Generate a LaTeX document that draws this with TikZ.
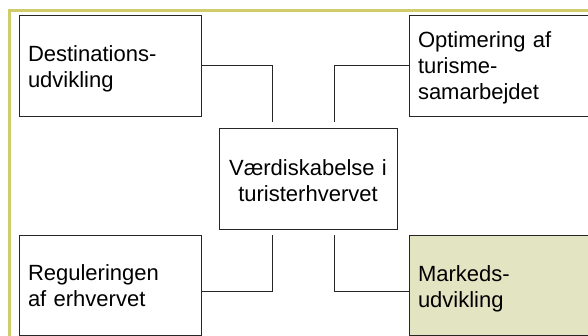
\documentclass[tikz,border=0pt]{standalone}
\usepackage{fontspec}
\setmainfont{Liberation Sans}
\usepackage{xcolor}
\definecolor{frameolive}{RGB}{209,204,107}
\definecolor{boxolive}{RGB}{227,228,194}

\tikzset{
  area/.style={draw=black!85, line width=0.9pt, minimum width=182pt, minimum height=101pt,
    text width=164pt, inner xsep=9pt, align=left, font=\fontsize{22}{26}\selectfont,
    execute at begin node={\rule{0pt}{#1}},
    execute at end node={\rule[-5pt]{0pt}{5pt}}},
  area/.default=24pt,
  link/.style={draw=black!85, line width=0.9pt}
}

\begin{document}
\begin{tikzpicture}[x=1pt, y=-1pt]
                \clip (0,0) rectangle (588,336);
                \fill[white] (0,0) rectangle (588,336);

                % Outer frame
                \draw[frameolive, line width=2.7pt] (9.5,10.7) rectangle (620,360);

                % Center box
                \node[area=26pt, minimum width=178pt, text width=160pt, align=center] (ctr) at (308,178.5)
                  {V\ae rdiskabelse i\\ turisterhvervet};

                % Corner boxes
                \node[area] (dest) at (110,65.5) {Destinations-\\udvikling};
                \node[area=22pt] (optim) at (500,65.5) {Optimering af\\turisme-\\samarbejdet};
                \node[area=21pt, minimum height=100pt] (regul) at (110,285) {Reguleringen\\af erhvervet};
                \node[area, fill=boxolive, minimum height=100pt] (marked) at (500,285) {Markeds-\\udvikling};

                % Line ends near center box
                \coordinate (tl) at ([xshift=-36pt, yshift=6pt]ctr.north);
                \coordinate (tr) at ([xshift=26pt, yshift=6pt]ctr.north);
                \coordinate (bl) at ([xshift=-36pt, yshift=-6pt]ctr.south);
                \coordinate (br) at ([xshift=26pt, yshift=-6pt]ctr.south);

                % Connectors
                \draw[link] (dest.east) -| (tl);
                \draw[link] (optim.west) -| (tr);
                \draw[link] (bl) |- ([yshift=-6.7pt]regul.east);
                \draw[link] (br) |- ([yshift=-6.7pt]marked.west);
            \end{tikzpicture}
\end{document}
